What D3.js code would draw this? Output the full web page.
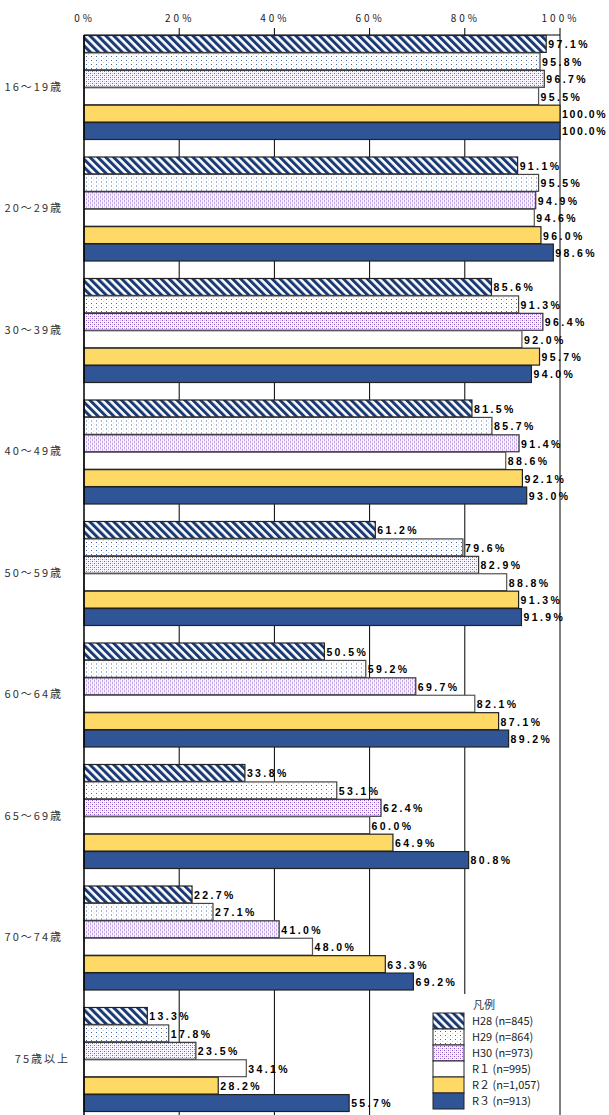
<!DOCTYPE html>
<html><head><meta charset="utf-8">
<script src="https://cdn.jsdelivr.net/npm/d3@7/dist/d3.min.js"></script>
<style>
html,body{margin:0;padding:0;background:#fff;}
svg{display:block;}
</style></head>
<body>
<svg id="chart" width="609" height="1115"></svg>
<script>
const categories = ["16～19歳","20～29歳","30～39歳","40～49歳","50～59歳","60～64歳","65～69歳","70～74歳","75歳以上"];
const seriesNames = ["H28 (n=845)","H29 (n=864)","H30 (n=973)","R１ (n=995)","R２ (n=1,057)","R３ (n=913)"];
const H28 = [97.1, 91.1, 85.6, 81.5, 61.2, 50.5, 33.8, 22.7, 13.3];
const H29 = [95.8, 95.5, 91.3, 85.7, 79.6, 59.2, 53.1, 27.1, 17.8];
const H30 = [96.7, 94.9, 96.4, 91.4, 82.9, 69.7, 62.4, 41.0, 23.5];
const R1  = [95.5, 94.6, 92.0, 88.6, 88.8, 82.1, 60.0, 48.0, 34.1];
const R2  = [100.0, 96.0, 95.7, 92.1, 91.3, 87.1, 64.9, 63.3, 28.2];
const R3  = [100.0, 98.6, 94.0, 93.0, 91.9, 89.2, 80.8, 69.2, 55.7];
const tickValues = [0,20,40,60,80,100];
const legendTitle = "凡例";

const series = [H28,H29,H30,R1,R2,R3];
const fills = ["url(#pH28)","url(#pH29)","url(#pH30)","#ffffff","#ffd966","#2f5597"];
const strokes = ["#222","#444","#333","#555","#222","#222"];

const svg = d3.select("#chart");
const defs = svg.append("defs");
// H28 diagonal stripes
const p1 = defs.append("pattern").attr("id","pH28").attr("patternUnits","userSpaceOnUse")
  .attr("width",5.6).attr("height",10).attr("patternTransform","rotate(-45)");
p1.append("rect").attr("width",5.6).attr("height",10).attr("fill","#fff");
p1.append("rect").attr("width",3).attr("height",10).attr("fill","#1a3a75");
// H29 sparse blue dots
const p2 = defs.append("pattern").attr("id","pH29").attr("patternUnits","userSpaceOnUse")
  .attr("width",5).attr("height",4);
p2.append("rect").attr("width",5).attr("height",4).attr("fill","#fff");
p2.append("rect").attr("x",1).attr("y",1).attr("width",1).attr("height",1).attr("fill","#4466aa");
p2.append("rect").attr("x",3).attr("y",3).attr("width",1).attr("height",1).attr("fill","#c8d2ea");
// H30 dense purple dots
const p3 = defs.append("pattern").attr("id","pH30").attr("patternUnits","userSpaceOnUse")
  .attr("width",4).attr("height",4);
p3.append("rect").attr("width",4).attr("height",4).attr("fill","#faf6ff");
p3.append("rect").attr("x",0).attr("y",0).attr("width",1).attr("height",1).attr("fill","#8a55c8");
p3.append("rect").attr("x",2).attr("y",2).attr("width",1).attr("height",1).attr("fill","#8a55c8");
p3.append("rect").attr("x",2).attr("y",0).attr("width",1).attr("height",1).attr("fill","#d4bcf0");
p3.append("rect").attr("x",0).attr("y",2).attr("width",1).attr("height",1).attr("fill","#d4bcf0");

const mLeft = 84, mRight = 560, mTop = 35, step = 121.5;
const x = d3.scaleLinear().domain([0,100]).range([mLeft,mRight]);
const y0 = d3.scaleBand().domain(categories).range([mTop, mTop + step*categories.length]).paddingInner(0).paddingOuter(0);
const y1 = d3.scaleBand().domain(d3.range(series.length)).range([0, 104.5]);

// gridlines
svg.append("g").selectAll("line").data(tickValues.slice(1)).join("line")
  .attr("x1",d=>x(d)).attr("x2",d=>x(d)).attr("y1",mTop-7).attr("y2",1115)
  .attr("stroke","#000").attr("stroke-width",1);

// top axis labels
const axis = d3.axisTop(x).tickValues(tickValues).tickSize(0).tickPadding(0).tickFormat(d=>d+"%");
const ag = svg.append("g").attr("transform",`translate(0,${mTop-17})`).call(axis);
ag.select(".domain").remove();
ag.selectAll("text").attr("font-family","'Noto Sans CJK JP', sans-serif").attr("font-size",10)
  .attr("fill","#222").attr("letter-spacing","3px").attr("dy","0.35em");

// top line
svg.append("line").attr("x1",mLeft).attr("x2",mRight).attr("y1",mTop).attr("y2",mTop).attr("stroke","#000").attr("stroke-width",1);

// bars
const groups = svg.append("g").selectAll("g").data(categories).join("g")
  .attr("transform",d=>`translate(0,${y0(d)})`);
groups.each(function(cat, ci){
  const g = d3.select(this);
  series.forEach((s, si) => {
    const v = s[ci];
    g.append("rect").attr("x",x(0)).attr("y",y1(si)+0.5)
      .attr("width",x(v)-x(0)).attr("height",y1.bandwidth()-0.5)
      .attr("fill",fills[si]).attr("stroke",strokes[si]).attr("stroke-width",1.2);
    g.append("text").attr("x",x(v)+2).attr("y",y1(si)+y1.bandwidth()/2+1)
      .attr("dy","0.35em").attr("font-family","'Liberation Sans', Arial, sans-serif")
      .attr("font-weight","bold").attr("font-size",10.5).attr("letter-spacing", v >= 100 ? "1.6px" : "2.4px")
      .attr("fill","#000").text(v.toFixed(1)+"%");
  });
  g.append("text").attr("x",ci === categories.length-1 ? 70 : 63).attr("y",52).attr("dy","0.35em").attr("text-anchor","end")
    .attr("font-family","'Noto Sans CJK JP', sans-serif").attr("font-size",11)
    .attr("letter-spacing","2px").attr("fill","#333").text(cat);
});

// left axis
svg.append("line").attr("x1",mLeft).attr("x2",mLeft).attr("y1",mTop).attr("y2",1115).attr("stroke","#000").attr("stroke-width",1.5);

// legend
const lg = svg.append("g").attr("transform","translate(424,994)");
lg.append("rect").attr("x",0).attr("y",0).attr("width",128).attr("height",121).attr("fill","#fff");
lg.append("text").attr("x",49).attr("y",11).attr("dy","0.35em")
  .attr("font-family","'Noto Sans CJK JP', sans-serif").attr("font-size",11).attr("fill","#333").text(legendTitle);
const ly = d3.scaleBand().domain(d3.range(seriesNames.length)).range([19, 19+16*6]);
seriesNames.forEach((n,i)=>{
  lg.append("rect").attr("x",9).attr("y",ly(i)).attr("width",31).attr("height",ly.bandwidth())
    .attr("fill",fills[i]).attr("stroke","#222").attr("stroke-width",1);
  lg.append("text").attr("x",48).attr("y",ly(i)+ly.bandwidth()/2).attr("dy","0.35em")
    .attr("font-family","'Noto Sans CJK JP', sans-serif").attr("font-size",11).attr("fill","#222").text(n);
});
</script>
</body></html>
